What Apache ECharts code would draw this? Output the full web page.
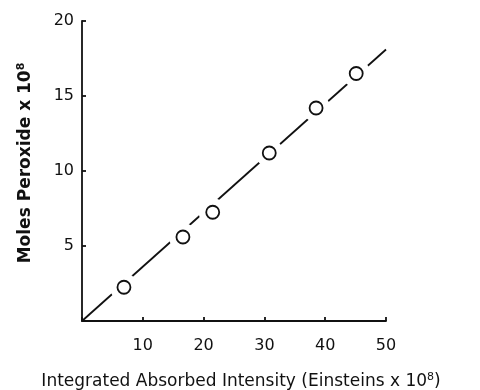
<!DOCTYPE html>
<html><head><meta charset="utf-8">
<script src="https://cdn.jsdelivr.net/npm/echarts@6/dist/echarts.min.js"></script>
<style>html,body{margin:0;padding:0;background:#fff}#c{width:480px;height:390px}</style>
</head><body><div id="c"></div>
<script>
const pointsX = [6.9, 16.6, 21.5, 30.8, 38.5, 45.1];
const pointsY = [2.25, 5.6, 7.25, 11.2, 14.2, 16.5];
const fitX = [0, 50];
const fitY = [0, 18.1];
const xTicks = [10, 20, 30, 40, 50];
const yTicks = [5, 10, 15, 20];

const pts = pointsX.map((x, i) => [x, pointsY[i]]);
const fit = fitX.map((x, i) => [x, fitY[i]]);
const FONT = 'DejaVu Sans';
const INK = '#111';

const chart = echarts.init(document.getElementById('c'));
chart.setOption({
  animation: false,
  backgroundColor: '#fff',
  grid: { left: 82, right: 94, top: 21, bottom: 69, containLabel: false, outerBoundsMode: 'none' },
  xAxis: {
    type: 'value', min: 0, max: 50, interval: 10,
    axisLine: { lineStyle: { color: INK, width: 1.8 } },
    axisTick: { inside: true, length: 4, lineStyle: { color: INK, width: 1.8 } },
    splitLine: { show: false },
    axisLabel: { color: INK, fontFamily: FONT, fontSize: 16, margin: 17,
      formatter: v => xTicks.includes(v) ? String(v) : '' },
    name: 'Integrated Absorbed Intensity (Einsteins x 10{s|8})',
    nameLocation: 'middle', nameGap: 51,
    nameTextStyle: { color: INK, fontFamily: FONT, fontSize: 17, padding: [0, 0, 0, 14],
      rich: { s: { fontSize: 11, verticalAlign: 'top', padding: [0, 0, 9, 0], fontFamily: FONT, color: INK } } }
  },
  yAxis: {
    type: 'value', min: 0, max: 20, interval: 5,
    axisLine: { show: true, lineStyle: { color: INK, width: 1.8 } },
    axisTick: { show: true, inside: true, length: 4, lineStyle: { color: INK, width: 1.8 } },
    splitLine: { show: false },
    axisLabel: { color: INK, fontFamily: FONT, fontSize: 16, margin: 8,
      formatter: v => yTicks.includes(v) ? String(v) : '' },
    name: 'Moles Peroxide x 10{s|8}',
    nameLocation: 'middle', nameGap: 46, nameRotate: 90,
    nameTextStyle: { color: INK, fontFamily: FONT, fontSize: 17, fontWeight: 'bold', padding: [0, 0, 0, 16],
      rich: { s: { fontSize: 11, verticalAlign: 'top', padding: [0, 0, 9, 0], fontFamily: FONT, color: INK, fontWeight: 'bold' } } }
  },
  series: [
    { type: 'line', data: fit, symbol: 'none', lineStyle: { color: INK, width: 1.8 }, z: 1 },
    { type: 'scatter', data: pts, symbol: 'circle', symbolSize: 28,
      itemStyle: { color: '#fff', borderWidth: 0, opacity: 1 }, z: 2 },
    { type: 'scatter', data: pts, symbol: 'circle', symbolSize: 13,
      itemStyle: { color: '#fff', borderColor: INK, borderWidth: 1.8, opacity: 1 }, z: 3 }
  ]
});
</script></body></html>
